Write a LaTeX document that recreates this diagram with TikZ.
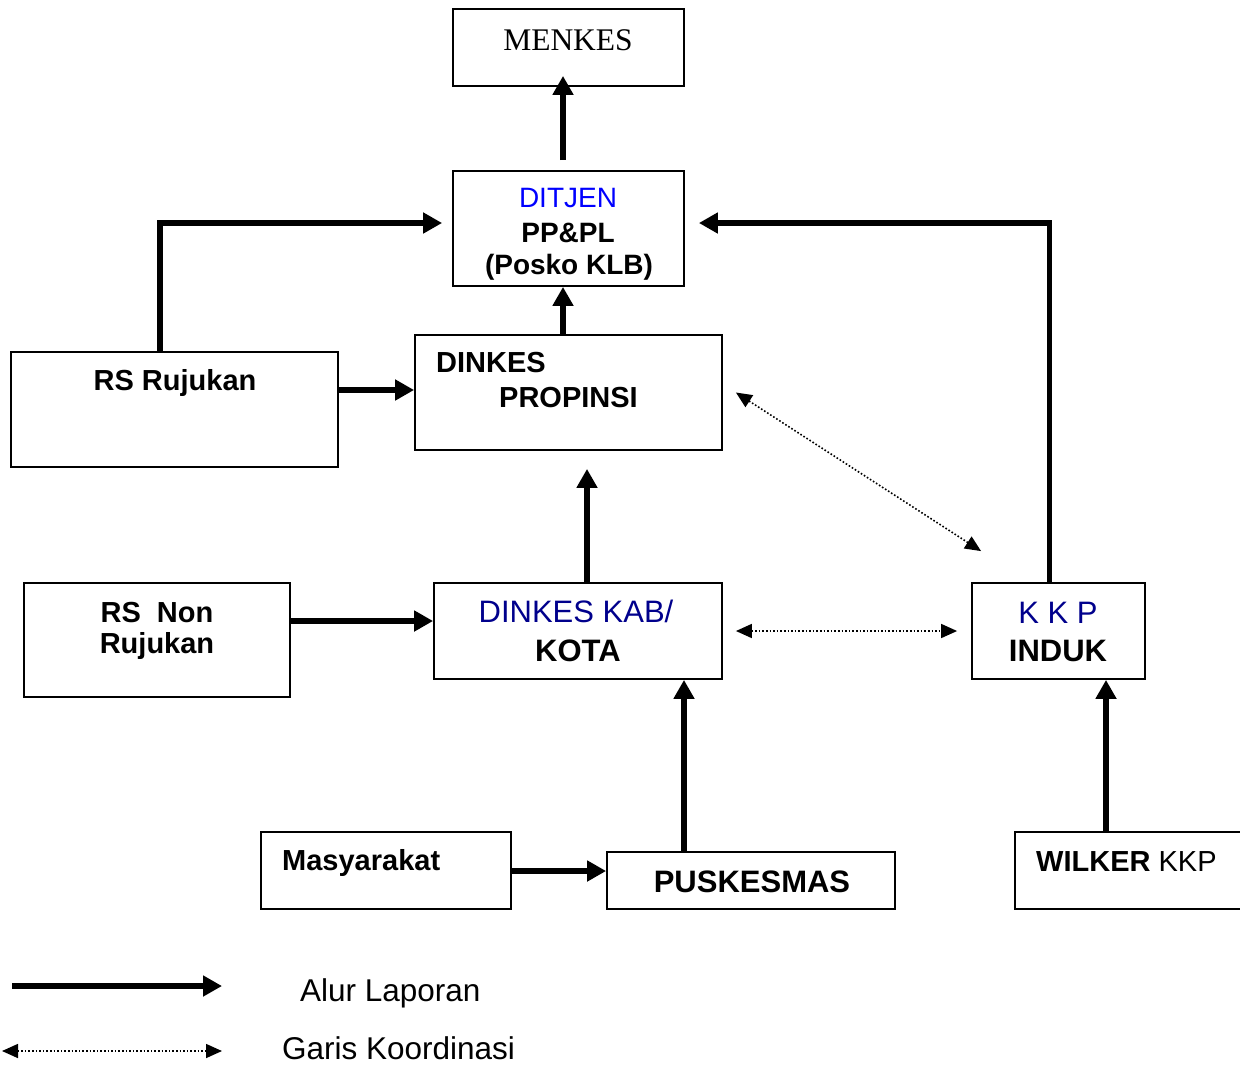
\documentclass[tikz,border=0pt]{standalone}
\usepackage{fontspec}
\setmainfont{Liberation Sans}
\newfontfamily\timesfont{Liberation Serif}
\usetikzlibrary{arrows.meta}
\definecolor{ditjenblue}{RGB}{0,0,255}
\definecolor{kabblue}{RGB}{0,0,140}

\begin{document}
\begin{tikzpicture}[x=1pt, y=-1pt,
    box/.style={draw, line width=1.8pt, inner sep=0pt},
    flow/.style={line width=5.5pt, -{Triangle[length=19pt, width=20pt]}},
    koord/.style={line width=1.6pt, dotted, {Triangle[length=16pt, width=14pt]}-{Triangle[length=16pt, width=14pt]}},
    txt/.style={anchor=base, inner sep=0pt, font=\fontsize{29}{35}\selectfont},
    txtb/.style={txt, font=\bfseries\fontsize{29}{35}\selectfont},
    big/.style={txt, font=\fontsize{31}{37}\selectfont},
    bigb/.style={txt, font=\bfseries\fontsize{31}{37}\selectfont}]
    \useasboundingbox (0,0) rectangle (1240,1072);
    % Nodes
    \node[box, minimum width=231pt, minimum height=77pt] (menkes) at (568.5,47.5) {};
    \node[box, minimum width=231pt, minimum height=115pt] (ditjen) at (568.5,228.5) {};
    \node[box, minimum width=307pt, minimum height=115pt] (propinsi) at (568.5,392.5) {};
    \node[box, minimum width=327pt, minimum height=115pt] (rsruj) at (174.5,409.5) {};
    \node[box, minimum width=266pt, minimum height=114pt] (rsnon) at (157,640) {};
    \node[box, minimum width=288pt, minimum height=96pt] (kab) at (578,631) {};
    \node[box, minimum width=173pt, minimum height=96pt] (kkp) at (1058.5,631) {};
    \node[box, minimum width=250pt, minimum height=77pt] (masy) at (386,870.5) {};
    \node[box, minimum width=288pt, minimum height=57pt] (pusk) at (751,880.5) {};
    \node[box, minimum width=245pt, minimum height=77pt] (wilker) at (1137.5,870.5) {};

    % Texts
    \node[txt, font=\timesfont\fontsize{31.5}{38}\selectfont] (menkesA) at (568,50) {MENKES};
    \node[txt, text=ditjenblue, font=\fontsize{28}{34}\selectfont] (ditjenA) at (568,207) {DITJEN};
    \node[txtb, font=\bfseries\fontsize{28}{34}\selectfont] (ditjenB) at (568,242) {PP\&PL};
    \node[txtb, font=\bfseries\fontsize{28}{34}\selectfont] (ditjenC) at (569,274) {(Posko KLB)};
    \node[txtb, anchor=base west] (propinsiA) at (436,372) {DINKES};
    \node[txtb, anchor=base west] (propinsiB) at (499,407) {PROPINSI};
    \node[txtb] (rsrujA) at (175,390) {RS Rujukan};
    \node[txtb] (rsnonA) at (157,622) {RS\ \ Non};
    \node[txtb] (rsnonB) at (157,653) {Rujukan};
    \node[big, text=kabblue] (kabA) at (576,622) {DINKES KAB/};
    \node[bigb] (kabB) at (578,661) {KOTA};
    \node[big, text=kabblue] (kkpA) at (1058,623) {K K P};
    \node[bigb] (kkpB) at (1058,661) {INDUK};
    \node[txtb, anchor=base west] (masyA) at (282,870) {Masyarakat};
    \node[bigb] (puskA) at (752,892) {PUSKESMAS};
    \node[txt, anchor=base west] (wilkerA) at (1036,871) {\textbf{WILKER} KKP};

    % Alur laporan
    \draw[flow] ([xshift=-5.5pt, yshift=10pt]ditjen.north) -- ([xshift=-5.5pt, yshift=11pt]menkes.south);
    \draw[flow] ([xshift=-5.5pt]propinsi.north) -- ([xshift=-5.5pt]ditjen.south);
    \draw[flow] ([xshift=-14.5pt]rsruj.north) |- ([xshift=-10pt, yshift=5.5pt]ditjen.west);
    \draw[flow] ([xshift=-9pt]kkp.north) |- ([xshift=14pt, yshift=5.5pt]ditjen.east);
    \draw[flow] ([yshift=19.5pt]rsruj.east) -- ([yshift=2.5pt]propinsi.west);
    \draw[flow] ([xshift=9pt]kab.north) -- ([xshift=18.5pt, yshift=-18pt]propinsi.south);
    \draw[flow] ([yshift=19pt]rsnon.east) -- ([yshift=10pt]kab.west);
    \draw[flow] ([xshift=-67pt]pusk.north) -- ([xshift=106pt]kab.south);
    \draw[flow] ([yshift=-0.5pt]masy.east) -- ([yshift=9.5pt]pusk.west);
    \draw[flow] ([xshift=-31.5pt]wilker.north) -- ([xshift=47.5pt]kkp.south);

    % Garis koordinasi
    \draw[koord] ([xshift=13pt]propinsi.east) -- ([xshift=10pt, yshift=31pt]kkp.north west);
    \draw[koord] ([xshift=13pt]kab.east) -- ([xshift=-14pt]kkp.west);

    % Legend
    \coordinate (legA) at (12,986);
    \coordinate (legB) at (222,986);
    \coordinate (legC) at (2,1051);
    \coordinate (legD) at (222,1051);
    \draw[flow] (legA) -- (legB);
    \draw[koord] (legC) -- (legD);
    \node[txt, anchor=base west, font=\fontsize{31.5}{38}\selectfont] (alur) at (300,1001) {Alur Laporan};
    \node[txt, anchor=base west, font=\fontsize{31.5}{38}\selectfont] (garis) at (282,1059) {Garis Koordinasi};
\end{tikzpicture}
\end{document}
